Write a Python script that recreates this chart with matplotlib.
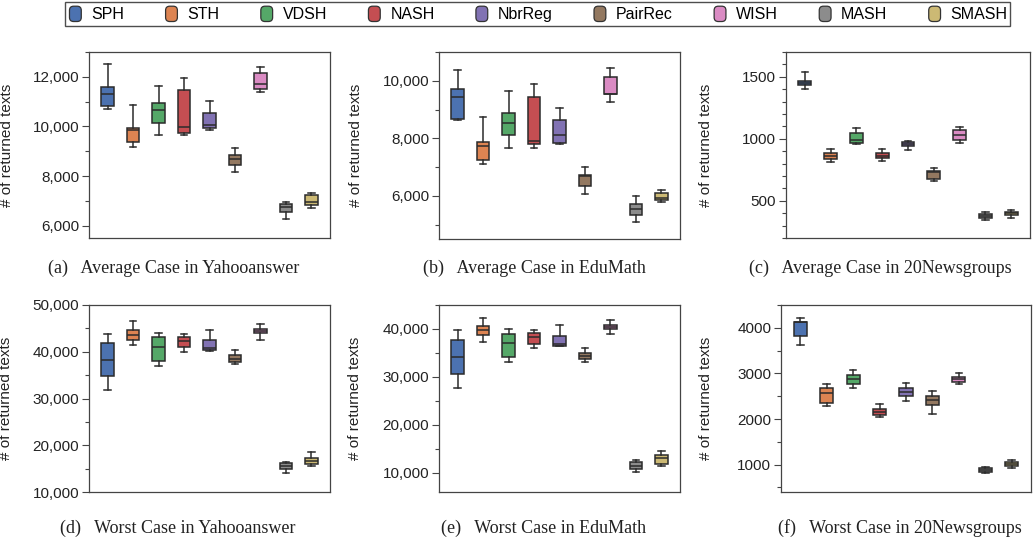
import numpy as np
import matplotlib
matplotlib.use("Agg")
from matplotlib import pyplot as plt
from matplotlib.patches import FancyBboxPatch
from matplotlib.legend_handler import HandlerPatch
from matplotlib.ticker import MultipleLocator, FuncFormatter

methods = ['SPH', 'STH', 'VDSH', 'NASH', 'NbrReg', 'PairRec', 'WISH', 'MASH', 'SMASH']
colors = ['#4C72B0', '#DD8452', '#55A868', '#C44E52', '#8172B3',
          '#937860', '#DA8BC3', '#8C8C8C', '#CCB974']

# box stats per method: [whislo, q1, med, q3, whishi]
avg_yahoo = [
    [10700, 10810, 11300, 11600, 12510],
    [9160, 9360, 9860, 9950, 10850],
    [9640, 10150, 10650, 10960, 11640],
    [9640, 9750, 9960, 11450, 11950],
    [9840, 9940, 10050, 10550, 11040],
    [8160, 8460, 8680, 8850, 9130],
    [11400, 11490, 11700, 12170, 12390],
    [6270, 6550, 6740, 6870, 6950],
    [6710, 6820, 6950, 7230, 7310],
]
avg_edumath = [
    [8650, 8670, 9420, 9730, 10370],
    [7110, 7240, 7750, 7870, 8750],
    [7660, 8130, 8540, 8880, 9630],
    [7660, 7800, 7890, 9440, 9900],
    [7790, 7830, 8130, 8640, 9060],
    [6080, 6340, 6680, 6730, 7000],
    [9260, 9540, 9540, 10140, 10450],
    [5100, 5350, 5560, 5700, 6000],
    [5790, 5840, 5940, 6090, 6210],
]
avg_news = [
    [1403, 1433, 1452, 1468, 1535],
    [811, 835, 862, 883, 916],
    [958, 969, 991, 1050, 1090],
    [824, 843, 865, 883, 916],
    [913, 942, 956, 972, 983],
    [656, 677, 736, 744, 763],
    [964, 988, 1034, 1071, 1092],
    [342, 361, 379, 393, 409],
    [361, 382, 398, 412, 428],
]
worst_yahoo = [
    [31900, 34750, 38330, 41900, 43830],
    [41550, 42550, 43550, 44620, 46550],
    [37040, 38040, 41040, 43050, 44050],
    [40040, 41040, 42400, 43190, 43830],
    [40190, 40470, 40760, 42620, 44620],
    [37330, 37900, 38540, 39330, 40400],
    [42620, 43910, 44410, 44910, 45910],
    [14150, 14860, 15580, 16150, 16440],
    [15580, 15940, 16650, 17370, 18660],
]
worst_edumath = [
    [27750, 30600, 34220, 37630, 39720],
    [37350, 38740, 39720, 40620, 42220],
    [33170, 34080, 37070, 38950, 39920],
    [36030, 36860, 38250, 39160, 39780],
    [36370, 36510, 36860, 38530, 40830],
    [33170, 33800, 34430, 35050, 36030],
    [38880, 39920, 40340, 40760, 41870],
    [10140, 10770, 11390, 12160, 12640],
    [11460, 11880, 12990, 13690, 14520],
]
worst_news = [
    [3628, 3818, 4124, 4124, 4219],
    [2285, 2343, 2569, 2679, 2774],
    [2686, 2774, 2883, 2971, 3073],
    [2036, 2095, 2161, 2226, 2336],
    [2394, 2496, 2599, 2686, 2788],
    [2117, 2314, 2409, 2504, 2613],
    [2766, 2818, 2869, 2912, 3007],
    [825, 847, 891, 927, 949],
    [920, 971, 1022, 1066, 1095],
]

captions = ['(a)   Average Case in Yahooanswer', '(b)   Average Case in EduMath',
            '(c)   Average Case in 20Newsgroups', '(d)   Worst Case in Yahooanswer',
            '(e)   Worst Case in EduMath', '(f)   Worst Case in 20Newsgroups']

W, H = 1036, 545
fig = plt.figure(figsize=(W / 100, H / 100), dpi=100)

# panel boxes in pixels: left, top, right, bottom
boxes_px = [(89, 52, 330, 238), (439, 52, 680, 239), (786, 52, 1030, 238),
            (89, 305, 330, 492), (439, 305, 680, 492), (781, 305, 1031, 492)]
ylims = [(5500, 13000), (4500, 11000), (200, 1700),
         (10000, 50000), (6000, 45000), (400, 4500)]
majors = [2000, 2000, 500, 10000, 10000, 1000]
minors = [1000, 1000, 100, 5000, 5000, 500]
comma = [True, True, False, True, True, False]
label_x = [14, 363, 713, 13, 362, 713]
cap_x = [174, 534, 880, 178, 544, 900]
cap_y = [268, 268, 268, 528, 528, 528]
datasets = [avg_yahoo, avg_edumath, avg_news, worst_yahoo, worst_edumath, worst_news]

tick_font = 'Liberation Sans'
edge = '#2b2b2b'

for i, data in enumerate(datasets):
    l, t, r, b = boxes_px[i]
    ax = fig.add_axes([l / W, 1 - b / H, (r - l) / W, (b - t) / H])
    stats = []
    for name, s in zip(methods, data):
        stats.append(dict(label=name, whislo=s[0], q1=s[1], med=s[2], q3=s[3], whishi=s[4]))
    bp = ax.bxp(stats, positions=range(len(methods)), widths=0.5, patch_artist=True,
                showfliers=False,
                boxprops=dict(edgecolor=edge, linewidth=1.1),
                medianprops=dict(color=edge, linewidth=1.1),
                whiskerprops=dict(color=edge, linewidth=1.1),
                capprops=dict(color=edge, linewidth=1.1))
    for patch, c in zip(bp['boxes'], colors):
        patch.set_facecolor(c)
    ax.set_xlim(-0.73, 8.73)
    ax.set_ylim(*ylims[i])
    ax.set_xticks([])
    ax.yaxis.set_major_locator(MultipleLocator(majors[i]))
    ax.yaxis.set_minor_locator(MultipleLocator(minors[i]))
    if comma[i]:
        ax.yaxis.set_major_formatter(FuncFormatter(lambda v, p: f'{int(v):,}'))
    else:
        ax.yaxis.set_major_formatter(FuncFormatter(lambda v, p: f'{int(v)}'))
    ax.tick_params(axis='y', which='major', length=5, width=0.8, color='#444444',
                   labelsize=11, pad=2)
    ax.tick_params(axis='y', which='minor', length=3, width=0.8, color='#444444')
    for lab in ax.get_yticklabels():
        lab.set_fontfamily(tick_font)
        lab.set_color('#222222')
    for sp in ax.spines.values():
        sp.set_color('#444444')
        sp.set_linewidth(0.9)
    ax.set_ylabel('# of returned texts', fontsize=11, fontfamily=tick_font, color='#222222')
    ax.yaxis.set_label_coords(label_x[i] / W, 1 - ((t + b) / 2) / H, transform=fig.transFigure)
    fig.text(cap_x[i] / W, 1 - cap_y[i] / H, captions[i], ha='center', va='center',
             fontsize=13, fontfamily='Liberation Serif', color='#222222')


class RoundHandler(HandlerPatch):
    def create_artists(self, legend, orig_handle, xdescent, ydescent, width, height, fontsize, trans):
        p = FancyBboxPatch((-xdescent + 1.5, -ydescent + 1.5), width - 3, height - 3,
                           boxstyle='round,pad=0,rounding_size=3',
                           facecolor=orig_handle.get_facecolor(), edgecolor='#333333',
                           linewidth=0.9, transform=trans)
        return [p]


handles = [FancyBboxPatch((0, 0), 1, 1, facecolor=c) for c in colors]
leg = fig.legend(handles, methods, loc='lower left', ncol=9, mode='expand',
                 bbox_to_anchor=(65 / W, 1 - 26 / H, (1010 - 65) / W, 22 / H),
                 handler_map={FancyBboxPatch: RoundHandler()},
                 handlelength=1.0, handleheight=1.5, handletextpad=0.5,
                 borderpad=0.15, borderaxespad=0, columnspacing=1.0,
                 prop={'family': tick_font, 'size': 11.5}, fancybox=False)
leg.get_frame().set_edgecolor('#222222')
leg.get_frame().set_linewidth(1.0)

fig.savefig('out.png', dpi=100)
